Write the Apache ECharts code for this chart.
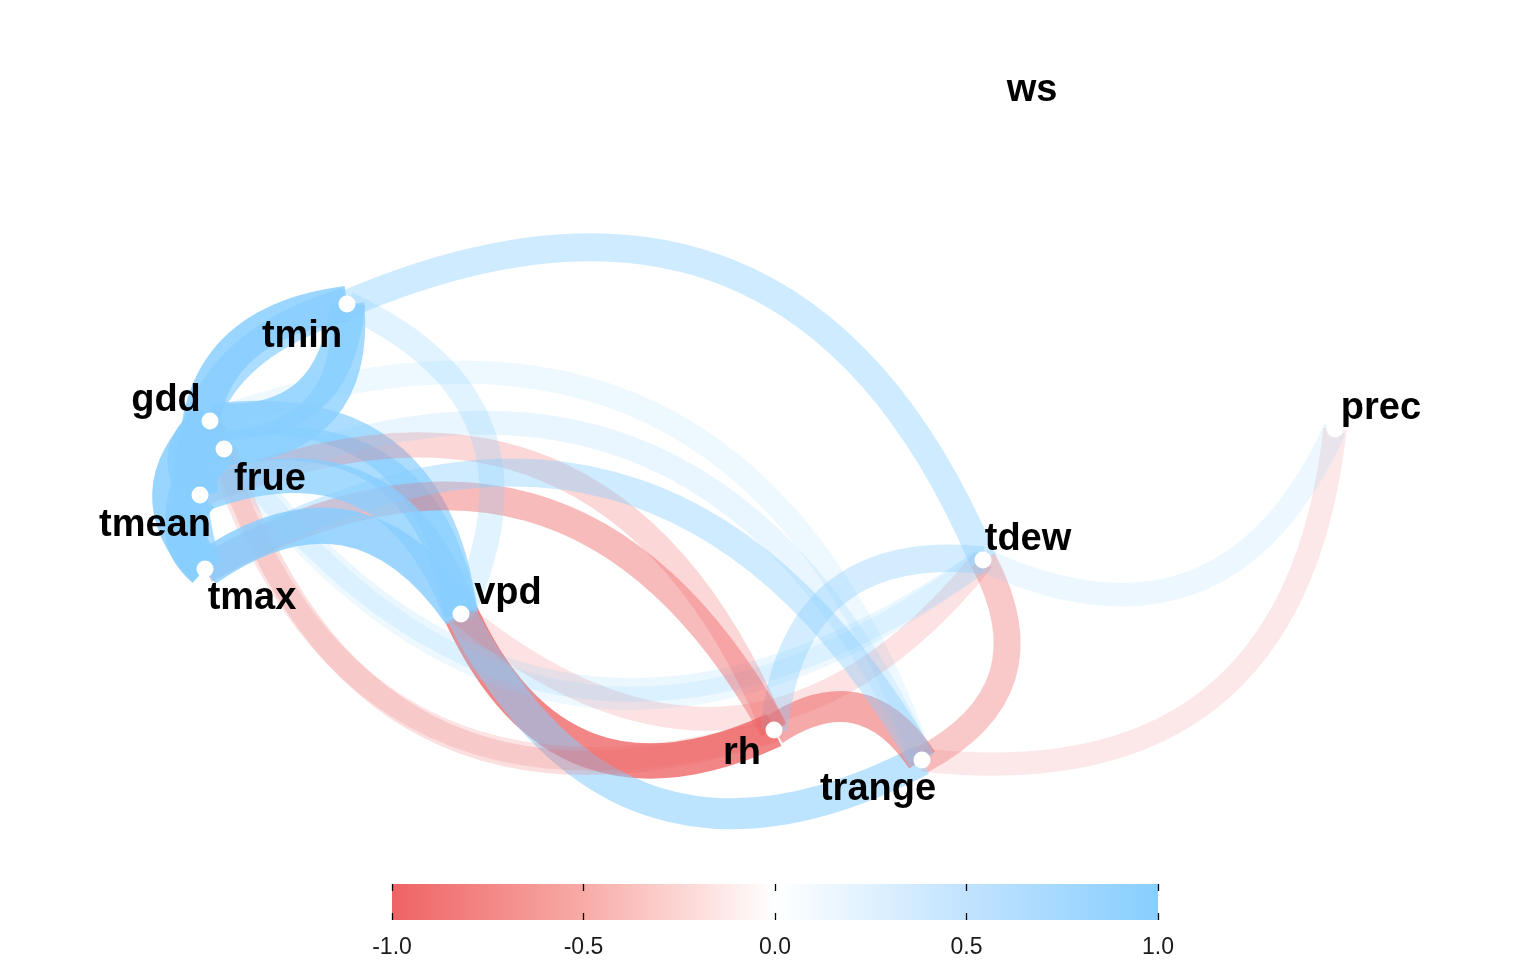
<!DOCTYPE html>
<html><head><meta charset="utf-8">
<script src="https://cdn.jsdelivr.net/npm/echarts@6/dist/echarts.min.js"></script>
<style>html,body{margin:0;padding:0;background:#fff}#chart{width:1536px;height:960px}</style>
</head><body><div id="chart"></div>
<script>
// ---- data ----
const variables = ['vpd', 'trange', 'gdd', 'frue', 'tdew', 'rh', 'prec', 'tmin', 'tmean', 'tmax', 'ws'];
// 2-D (multidimensional scaling) coordinates of each variable, in plot units
const coordX = [461, 922, 210, 224, 983, 774, 1335, 347, 200, 205, 987];
const coordY = [614, 760, 421, 449, 560, 730, 429, 304, 495, 569, 108];
// correlation paths (|r| >= 0.3): from = row variable, to = column variable
const pathFrom = ['rh','trange','gdd','gdd','frue','frue','tdew','tdew','tdew','tdew','rh','rh','rh','rh','tmean','tmax','prec','prec','tmin','tmin','tmin','tmin','tmean','tmean','tmean','tmean','tmean','tmax','tmax','tmax','tmax','tmax','tmax'];
const pathTo   = ['vpd','vpd','vpd','trange','vpd','gdd','vpd','trange','gdd','frue','trange','gdd','frue','tdew','rh','rh','trange','tdew','vpd','gdd','frue','tdew','vpd','trange','gdd','frue','tmin','vpd','trange','gdd','frue','tmin','tmean'];
const pathR    = [-0.88, 0.68, 0.80, 0.33, 0.80, 0.96, -0.36, -0.50, 0.35, 0.33, -0.68, -0.35, -0.38, 0.52, -0.42, -0.58, -0.33, 0.34, 0.42, 0.90, 0.86, 0.55, 0.85, 0.36, 0.98, 0.96, 0.93, 0.92, 0.55, 0.94, 0.92, 0.80, 0.97];
const legendTicks = [-1, -0.5, 0, 0.5, 1];
const legendMin = -1, legendMax = 1;
const colours = ['#EE6363', '#FFFFFF', '#87CEFF'];

// ---- styling ----
const FONT = "'Liberation Sans', Arial, sans-serif";
const labelOffsets = {
  tmin: [-45, 33], gdd: [-44, -20], frue: [46, 31], tmean: [-45, 31], tmax: [47, 30],
  vpd: [47, -20], rh: [-32, 24], trange: [-44, 30], tdew: [45, -20], prec: [46, -20], ws: [45, -17]
};
function edgeOpacity(r) { return Math.max(0.05, Math.min(1, 0.92 * (Math.abs(r) - 0.2) / 0.8)); }
function edgeWidth(r) { return 16 + 22 * Math.abs(r); }

const nodes = variables.map((v, i) => ({
  name: v,
  value: [coordX[i], coordY[i]],
  label: { offset: labelOffsets[v] }
}));
const links = pathFrom.map((f, i) => ({
  source: f, target: pathTo[i], value: pathR[i],
  lineStyle: {
    color: pathR[i] > 0 ? colours[2] : colours[0],
    opacity: edgeOpacity(pathR[i]),
    width: edgeWidth(pathR[i]),
    curveness: 0.5
  }
}));

const chart = echarts.init(document.getElementById('chart'), null, { renderer: 'canvas' });
const tickAxis = (pos, showLabel) => ({
  gridIndex: 1, type: 'value', min: legendTicks[0], max: legendTicks[legendTicks.length - 1],
  interval: 0.5, position: pos, z: 10,
  axisLine: { show: false }, splitLine: { show: false },
  axisTick: { show: true, inside: true, length: 7, lineStyle: { color: '#000', width: 1.3 } },
  axisLabel: showLabel ? { show: true, formatter: v => v.toFixed(1), fontSize: 23, color: '#1a1a1a', margin: 16, fontFamily: FONT } : { show: false }
});
chart.setOption({
  animation: false,
  backgroundColor: '#ffffff',
  grid: [
    { left: 0, right: 0, top: 0, bottom: 0 },
    { left: 392, width: 766, top: 884, height: 36 }
  ],
  xAxis: [
    { gridIndex: 0, type: 'value', min: 0, max: 1536, show: false },
    tickAxis('bottom', true),
    tickAxis('top', false)
  ],
  yAxis: [
    { gridIndex: 0, type: 'value', min: 0, max: 960, inverse: true, show: false },
    { gridIndex: 1, type: 'value', min: 0, max: 1, show: false }
  ],
  series: [
    {
      type: 'custom', xAxisIndex: 1, yAxisIndex: 1, silent: true, z: 1,
      data: [[legendMin, legendMax]],
      renderItem: (params, api) => {
        const p0 = api.coord([api.value(0), 0]);
        const p1 = api.coord([api.value(1), 1]);
        return {
          type: 'rect',
          shape: { x: p0[0], y: p1[1], width: p1[0] - p0[0], height: p0[1] - p1[1] },
          style: {
            fill: new echarts.graphic.LinearGradient(0, 0, 1, 0, [
              { offset: 0, color: colours[0] },
              { offset: 0.25, color: '#F8ABA7' },
              { offset: 0.5, color: colours[1] },
              { offset: 0.75, color: '#C1E3FF' },
              { offset: 1, color: colours[2] }
            ])
          }
        };
      }
    },
    {
      type: 'graph', coordinateSystem: 'cartesian2d', xAxisIndex: 0, yAxisIndex: 0,
      silent: true, z: 2,
      data: nodes, links: links,
      symbol: 'circle', symbolSize: 17,
      itemStyle: { color: '#ffffff', borderWidth: 0 },
      label: { show: true, position: 'inside', formatter: '{b}', fontSize: 38, fontWeight: 'bold', color: '#000', fontFamily: FONT },
      lineStyle: { curveness: 0.5 },
      emphasis: { disabled: true }
    }
  ]
});
</script></body></html>
